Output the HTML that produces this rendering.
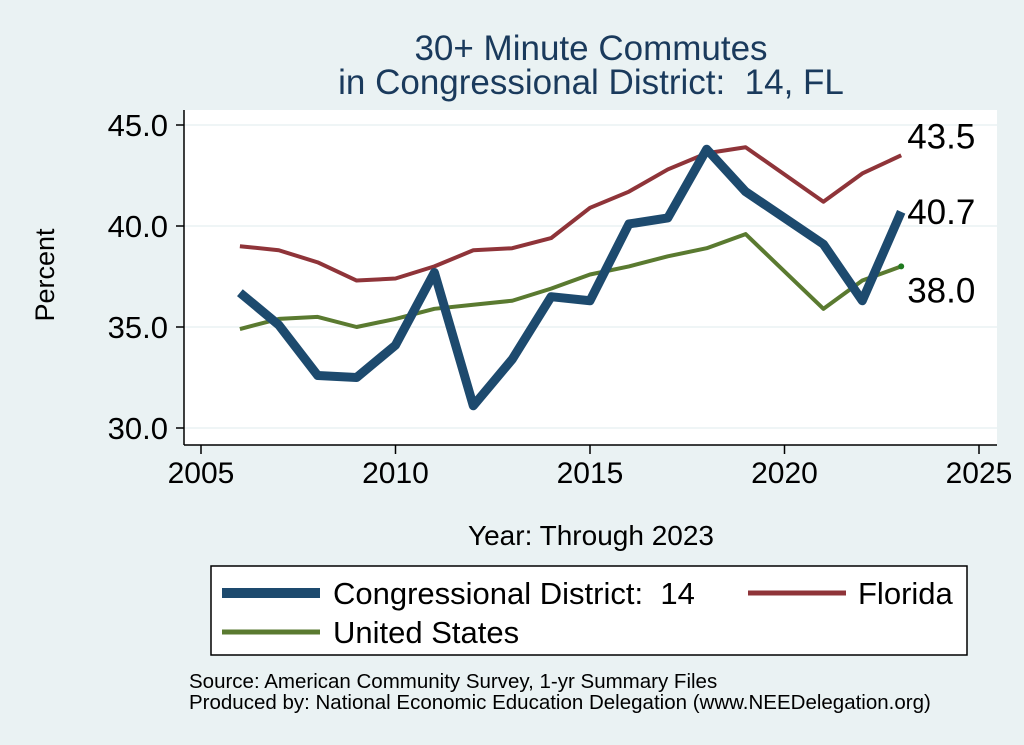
<!DOCTYPE html>
<html><head><meta charset="utf-8"><style>
body{margin:0;background:#eaf2f3;}
svg{display:block;font-family:"Liberation Sans",Arial,sans-serif;}
text{white-space:pre;}
</style></head><body>
<svg id="chart" width="1024" height="745" viewBox="0 0 1024 745">
<rect x="0" y="0" width="1024" height="745" fill="#eaf2f3"/>
<rect x="184" y="110" width="813" height="335" fill="#ffffff"/>
<text x="591" y="60" font-size="35" fill="#1a3a5c" text-anchor="middle">30+ Minute Commutes</text>
<text x="591" y="94" font-size="35" fill="#1a3a5c" text-anchor="middle">in Congressional District:  14, FL</text>
<g id="grid"></g><g id="axes"></g><g id="series"></g>
<text x="54" y="275" font-size="27" text-anchor="middle" transform="rotate(-90 54 275)">Percent</text>
<text x="591" y="545" font-size="28" text-anchor="middle">Year: Through 2023</text>
<g>
<rect x="211" y="566" width="756" height="89" fill="#fff" stroke="#000" stroke-width="1.5"/>
<line x1="222" y1="593" x2="320" y2="593" stroke="#1d4a6e" stroke-width="10"/>
<text x="333" y="604" font-size="31">Congressional District:  14</text>
<line x1="748" y1="593" x2="846" y2="593" stroke="#8f3439" stroke-width="5"/>
<text x="858" y="604" font-size="31">Florida</text>
<line x1="222" y1="632" x2="320" y2="632" stroke="#5a7a30" stroke-width="5"/>
<text x="333" y="643" font-size="31">United States</text>
</g>
<text x="189" y="688" font-size="20.5">Source: American Community Survey, 1-yr Summary Files</text>
<text x="189" y="709" font-size="20.5">Produced by: National Economic Education Delegation (www.NEEDelegation.org)</text>
</svg>
<script>
const years=[2006,2007,2008,2009,2010,2011,2012,2013,2014,2015,2016,2017,2018,2019,2021,2022,2023];
const district=[36.7,35.1,32.6,32.5,34.1,37.7,31.1,33.4,36.5,36.3,40.1,40.4,43.8,41.7,39.1,36.3,40.7];
const florida=[39.0,38.8,38.2,37.3,37.4,38.0,38.8,38.9,39.4,40.9,41.7,42.8,43.6,43.9,41.2,42.6,43.5];
const us=[34.9,35.4,35.5,35.0,35.4,35.9,36.1,36.3,36.9,37.6,38.0,38.5,38.9,39.6,35.9,37.3,38.0];
const yTicks=[30,35,40,45];
const xTicks=[2005,2010,2015,2020,2025];
const NS="http://www.w3.org/2000/svg";
const X=v=>201+(v-2005)*(778/20);
const Y=v=>428-(v-30)*(303/15);
function mk(tag,attrs,parent){const e=document.createElementNS(NS,tag);for(const k in attrs)e.setAttribute(k,attrs[k]);parent.appendChild(e);return e;}
const grid=document.getElementById('grid'),axes=document.getElementById('axes'),ser=document.getElementById('series');
mk('line',{x1:184,y1:110,x2:184,y2:445,stroke:'#000','stroke-width':1.5},axes);
mk('line',{x1:184,y1:445,x2:997,y2:445,stroke:'#000','stroke-width':1.5},axes);
yTicks.forEach(t=>{
 const g=mk('line',{x1:184,y1:Y(t),x2:997,y2:Y(t),stroke:'#eaf2f3','stroke-width':1.5},grid);
 
 
 mk('line',{x1:176,y1:Y(t),x2:184,y2:Y(t),stroke:'#000','stroke-width':1.5},axes);
 const tx=mk('text',{x:168,y:Y(t)+11,'font-size':31,'text-anchor':'end'},axes);tx.textContent=t.toFixed(1);
 
 
});
xTicks.forEach(t=>{
 mk('line',{x1:X(t),y1:445,x2:X(t),y2:454,stroke:'#000','stroke-width':1.5},axes);
 const tx=mk('text',{x:X(t),y:483,'font-size':30,'text-anchor':'middle'},axes);tx.textContent=t;
 
 
});
function line(vals,color,w,name){
 const p=mk('polyline',{points:years.map((y,i)=>X(y)+','+Y(vals[i])).join(' '),fill:'none',stroke:color,'stroke-width':w,'stroke-linejoin':'round'},ser);
 
 
}
line(us,'#5a7a30',4,'us-line');
line(florida,'#8f3439',4,'florida-line');
line(district,'#1d4a6e',9,'district-line');
const last=years.length-1;
mk('circle',{cx:X(years[last]),cy:Y(us[last]),r:3,fill:'#1f7a1f'},ser);
[[florida,'florida-end-label',-7],[district,'district-end-label',12],[us,'us-end-label',36]].forEach(([v,n,dy])=>{
 const t=mk('text',{x:X(years[last])+6,y:Y(v[last])+dy,'font-size':35},ser);t.textContent=v[last].toFixed(1);
 
 
});
</script>
</body></html>
